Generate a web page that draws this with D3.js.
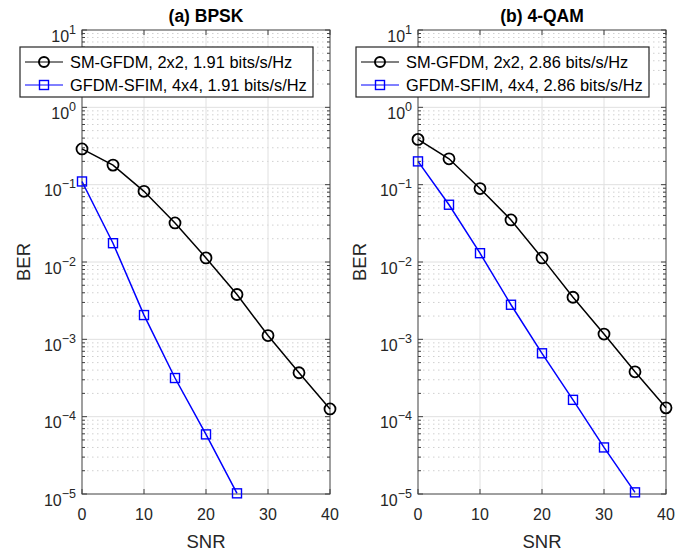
<!DOCTYPE html>
<html><head><meta charset="utf-8">
<script src="https://cdn.jsdelivr.net/npm/d3@7"></script>
<style>body{margin:0;background:#fff}svg{display:block}text{font-family:"Liberation Sans",Arial,sans-serif}</style>
</head><body>
<svg id="c" width="694" height="555"></svg>
<script>
const snr = [0, 5, 10, 15, 20, 25, 30, 35, 40];
const titles = ["(a) BPSK", "(b) 4-QAM"];
const xTicks = [0, 10, 20, 30, 40];
const yTickExps = [1, 0, -1, -2, -3, -4, -5];
const legendA = ["SM-GFDM, 2x2, 1.91 bits/s/Hz", "GFDM-SFIM, 4x4, 1.91 bits/s/Hz"];
const legendB = ["SM-GFDM, 2x2, 2.86 bits/s/Hz", "GFDM-SFIM, 4x4, 2.86 bits/s/Hz"];
const smA = [0.29, 0.179, 0.082, 0.032, 0.0113, 0.0038, 0.00112, 0.00037, 0.000126];
const sfimA = [0.11, 0.0175, 0.00206, 0.000316, 0.000059, 0.0000102];
const smB = [0.385, 0.216, 0.089, 0.035, 0.0113, 0.0035, 0.00117, 0.00038, 0.00013];
const sfimB = [0.2, 0.055, 0.013, 0.0028, 0.00066, 0.000165, 0.00004, 0.0000105];

const svg = d3.select("#c");
const yTop = 30, yBot = 494;
const axisCol = "#404040";

function panel(x0, x1, title, legend, sm, sfim, legX0, legX1) {
  const g = svg.append("g");
  const x = d3.scaleLinear().domain([0, 40]).range([x0, x1]);
  const y = d3.scaleLog().domain([1e-5, 10]).range([yBot, yTop]);
  const minors = [];
  for (let e = -5; e < 1; e++) for (let m = 2; m <= 9; m++) minors.push(m * Math.pow(10, e));
  g.selectAll(".mg").data(minors).enter().append("line")
    .attr("x1", x0).attr("x2", x1).attr("y1", d => y(d)).attr("y2", d => y(d))
    .attr("stroke", "#d0d0d0").attr("stroke-width", 1).attr("stroke-dasharray", "1.5,3.5");
  g.selectAll(".gy").data(yTickExps.slice(1, -1)).enter().append("line")
    .attr("x1", x0).attr("x2", x1).attr("y1", d => y(Math.pow(10, d))).attr("y2", d => y(Math.pow(10, d)))
    .attr("stroke", "#e0e0e0").attr("stroke-width", 1);
  g.selectAll(".gx").data(xTicks.slice(1, -1)).enter().append("line")
    .attr("y1", yTop).attr("y2", yBot).attr("x1", d => x(d)).attr("x2", d => x(d))
    .attr("stroke", "#e0e0e0").attr("stroke-width", 1);
  const tl = 5;
  xTicks.forEach(t => {
    g.append("line").attr("x1", x(t)).attr("x2", x(t)).attr("y1", yBot).attr("y2", yBot - tl).attr("stroke", axisCol);
    g.append("line").attr("x1", x(t)).attr("x2", x(t)).attr("y1", yTop).attr("y2", yTop + tl).attr("stroke", axisCol);
  });
  yTickExps.forEach(e => {
    const yy = y(Math.pow(10, e));
    g.append("line").attr("x1", x0).attr("x2", x0 + tl).attr("y1", yy).attr("y2", yy).attr("stroke", axisCol);
    g.append("line").attr("x1", x1).attr("x2", x1 - tl).attr("y1", yy).attr("y2", yy).attr("stroke", axisCol);
  });
  minors.forEach(d => {
    const yy = y(d);
    g.append("line").attr("x1", x0).attr("x2", x0 + 3).attr("y1", yy).attr("y2", yy).attr("stroke", axisCol);
    g.append("line").attr("x1", x1).attr("x2", x1 - 3).attr("y1", yy).attr("y2", yy).attr("stroke", axisCol);
  });
  g.append("rect").attr("x", x0).attr("y", yTop).attr("width", x1 - x0).attr("height", yBot - yTop)
    .attr("fill", "none").attr("stroke", axisCol).attr("stroke-width", 1);
  xTicks.forEach(t => {
    g.append("text").attr("x", x(t)).attr("y", yBot + 26).attr("text-anchor", "middle")
      .attr("font-size", 16).attr("fill", "#262626").text(t);
  });
  yTickExps.forEach(e => {
    const t = g.append("text").attr("x", x0 - 6).attr("y", y(Math.pow(10, e)) + 11.5).attr("text-anchor", "end")
      .attr("font-size", 16).attr("fill", "#262626");
    t.append("tspan").text("10");
    t.append("tspan").attr("font-size", 12.5).attr("dy", -8).text(e < 0 ? "\u2212" + (-e) : String(e));
  });
  g.append("text").attr("x", (x0 + x1) / 2).attr("y", 548).attr("text-anchor", "middle")
    .attr("font-size", 18.5).attr("fill", "#262626").text("SNR");
  g.append("text").attr("transform", `translate(${x0 - 52},${(yTop + yBot) / 2}) rotate(-90)`)
    .attr("text-anchor", "middle").attr("font-size", 18.5).attr("fill", "#262626").text("BER");
  g.append("text").attr("x", (x0 + x1) / 2).attr("y", 22).attr("text-anchor", "middle")
    .attr("font-size", 17.5).attr("font-weight", "bold").attr("fill", "#000").text(title);
  const line = d3.line().x(d => x(d[0])).y(d => y(d[1]));
  const smData = sm.map((v, i) => [snr[i], v]);
  const sfData = sfim.map((v, i) => [snr[i], v]);
  g.append("path").datum(smData).attr("d", line).attr("fill", "none").attr("stroke", "#000").attr("stroke-width", 1.5);
  g.append("path").datum(sfData).attr("d", line).attr("fill", "none").attr("stroke", "#0000ff").attr("stroke-width", 1.5);
  g.selectAll(".cm").data(smData).enter().append("circle")
    .attr("cx", d => x(d[0])).attr("cy", d => y(d[1])).attr("r", 5.5)
    .attr("fill", "none").attr("stroke", "#000").attr("stroke-width", 1.8);
  g.selectAll(".sq").data(sfData).enter().append("rect")
    .attr("x", d => x(d[0]) - 4.5).attr("y", d => y(d[1]) - 4.5).attr("width", 9).attr("height", 9)
    .attr("fill", "none").attr("stroke", "#0000ff").attr("stroke-width", 1.4);
  const ly0 = 47, ly1 = 97;
  g.append("rect").attr("x", legX0).attr("y", ly0).attr("width", legX1 - legX0).attr("height", ly1 - ly0)
    .attr("fill", "#fff").attr("stroke", "#262626").attr("stroke-width", 1.2);
  const rows = [62, 85];
  [0, 1].forEach(i => {
    const col = i === 0 ? "#000" : "#0000ff";
    const ly = rows[i];
    g.append("line").attr("x1", legX0 + 5).attr("x2", legX0 + 43).attr("y1", ly).attr("y2", ly).attr("stroke", col).attr("stroke-width", 1);
    const mx = legX0 + 24;
    if (i === 0) g.append("circle").attr("cx", mx).attr("cy", ly).attr("r", 5).attr("fill", "none").attr("stroke", col).attr("stroke-width", 2);
    else g.append("rect").attr("x", mx - 4.5).attr("y", ly - 4.5).attr("width", 9).attr("height", 9).attr("fill", "none").attr("stroke", col).attr("stroke-width", 1.4);
    g.append("text").attr("x", legX0 + 50).attr("y", ly + 6).attr("font-size", 16.4).attr("fill", "#000").text(legend[i]);
  });
}

panel(82, 330, titles[0], legendA, smA, sfimA, 20, 313);
panel(418, 666, titles[1], legendB, smB, sfimB, 356, 649);
</script>
</body></html>
